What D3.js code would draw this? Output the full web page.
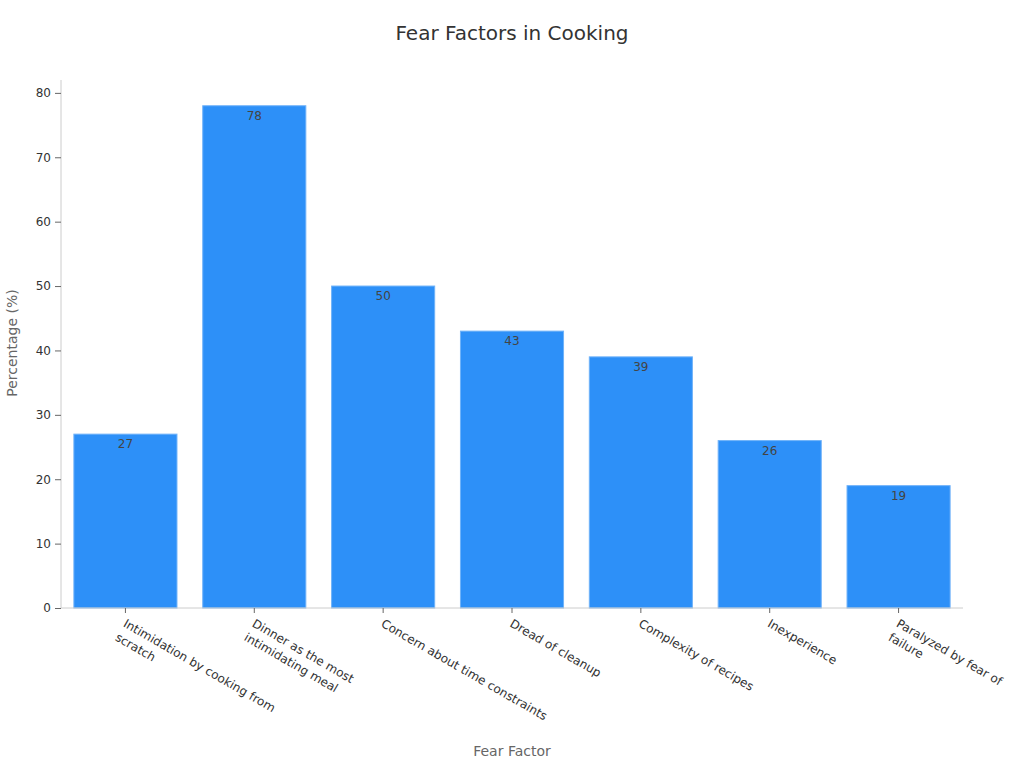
<!DOCTYPE html>
<html><head><meta charset="utf-8">
<script src="https://cdn.jsdelivr.net/npm/d3@7"></script>
<style>body{margin:0;background:#fff;} svg{display:block;font-family:"DejaVu Sans",sans-serif;} svg text{font-family:"DejaVu Sans",sans-serif;}</style>
</head><body>
<svg id="c" width="1024" height="768"></svg>
<script>
const categories = ["Intimidation by cooking from scratch","Dinner as the most intimidating meal","Concern about time constraints","Dread of cleanup","Complexity of recipes","Inexperience","Paralyzed by fear of failure"];
const categoryLines = [["Intimidation by cooking from","scratch"],["Dinner as the most","intimidating meal"],["Concern about time constraints"],["Dread of cleanup"],["Complexity of recipes"],["Inexperience"],["Paralyzed by fear of","failure"]];
const values = [27,78,50,43,39,26,19];
const yTicks = [0,10,20,30,40,50,60,70,80];

const svg = d3.select("#c");
const m = {l:61, r:963, t:80, b:608};
const x = d3.scaleBand().domain(categories).range([m.l, m.r]).paddingInner(0.2).paddingOuter(0.1);
const y = d3.scaleLinear().domain([0,82]).range([m.b, m.t]);

svg.append("text").attr("x",512).attr("y",40).attr("text-anchor","middle")
  .attr("font-size",20).attr("fill","#333").text("Fear Factors in Cooking");

// bars
svg.append("g").selectAll("rect").data(values).join("rect")
  .attr("x",(d,i)=>x(categories[i])).attr("y",d=>y(d))
  .attr("width",x.bandwidth()).attr("height",d=>y(0)-y(d))
  .attr("fill","#2d90f8").attr("stroke","#6fb2f9").attr("stroke-width",1);

svg.append("g").selectAll("text").data(values).join("text")
  .attr("x",(d,i)=>x(categories[i])+x.bandwidth()/2).attr("y",d=>y(d)+14)
  .attr("text-anchor","middle").attr("font-size",12).attr("fill","#444").text(d=>d);

// y axis
const ya = svg.append("g").attr("transform",`translate(${m.l},0)`)
  .call(d3.axisLeft(y).tickValues(yTicks).tickSize(6).tickPadding(4));
ya.attr("font-family",null);
ya.select(".domain").attr("stroke","#ccc").attr("d",`M0,${m.t}V${m.b}`);
ya.selectAll(".tick line").attr("stroke","#666");
ya.selectAll(".tick text").attr("font-size",12).attr("fill","#333");

// x axis
const xa = svg.append("g").attr("transform",`translate(0,${m.b})`)
  .call(d3.axisBottom(x).tickSize(5).tickFormat(""));
xa.attr("font-family",null);
xa.select(".domain").attr("stroke","#ccc").attr("d",`M${m.l},0H${m.r}`);
xa.selectAll(".tick line").attr("stroke","#666");
xa.selectAll(".tick").each(function(d,i){
  const t = d3.select(this).append("text")
    .attr("transform","translate(-3,18) rotate(30)")
    .attr("font-size",12).attr("fill","#333").attr("text-anchor","start");
  categoryLines[i].forEach((ln,j)=>{
    t.append("tspan").attr("x",0).attr("dy", j===0? 0 : 16).text(ln);
  });
});

svg.append("text").attr("transform","translate(17,343) rotate(-90)").attr("text-anchor","middle")
  .attr("font-size",14).attr("fill","#666").text("Percentage (%)");
svg.append("text").attr("x",512).attr("y",756).attr("text-anchor","middle")
  .attr("font-size",14).attr("fill","#666").text("Fear Factor");
</script>
</body></html>
